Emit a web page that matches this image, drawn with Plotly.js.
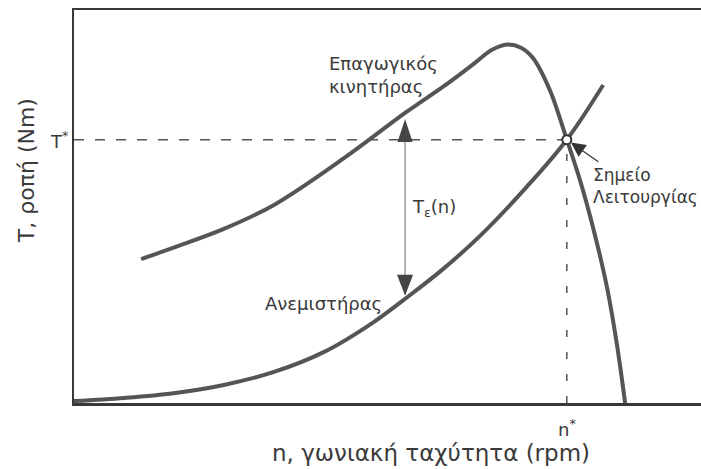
<!DOCTYPE html>
<html>
<head>
<meta charset="utf-8">
<script src="https://cdn.plot.ly/plotly-3.0.1.min.js"></script>
<style>
  html, body { margin: 0; padding: 0; background: #ffffff; }
  #chart { width: 701px; height: 469px; }
</style>
</head>
<body>
<div id="chart"></div>
<script>
// Induction motor torque curve (speed n, torque T), arbitrary units
const nMotor = [10.7, 16.0, 23.9, 31.9, 43.5, 52.8, 59.5, 64.0, 66.6, 69.1, 71.3, 73.2, 75.9, 78.6, 80.7, 82.8, 85.0, 86.6, 87.9];
const tMotor = [36.6, 39.6, 44.3, 50.4, 62.8, 73.8, 81.2, 86.6, 89.8, 91.2, 90.4, 87.8, 79.6, 67.0, 56.7, 44.5, 29.5, 14.8, 0.0];

// Fan load torque curve
const nFan = [0.0, 8.0, 15.9, 23.9, 31.9, 39.9, 47.8, 52.8, 58.8, 64.8, 72.2, 78.6, 84.4];
const tFan = [0.5, 1.3, 2.5, 4.6, 7.9, 13.0, 20.6, 26.5, 34.0, 42.6, 55.0, 67.0, 80.9];

// Operating point (n*, T*) where both curves meet
const opN = 78.6;
const opT = 67.0;

// Speed at which the excess torque Tε(n) is marked
const excessN = 52.8;

const motorAtExcess = tMotor[nMotor.indexOf(excessN)];
const fanAtExcess = tFan[nFan.indexOf(excessN)];

const FONT = '"DejaVu Sans", "Liberation Sans", sans-serif';
const INK = '#3a3a3a';
const CURVE = '#555555';

const margin = {l: 74, r: 0, t: 10, b: 66};
const plotH = 469 - margin.t - margin.b;
const pxPerY = plotH / 100;

const traces = [
  {
    x: nMotor, y: tMotor, type: 'scatter', mode: 'lines',
    line: {color: CURVE, width: 4, shape: 'spline', smoothing: 1},
    hoverinfo: 'skip', showlegend: false
  },
  {
    x: nFan, y: tFan, type: 'scatter', mode: 'lines',
    line: {color: CURVE, width: 4, shape: 'spline', smoothing: 1},
    hoverinfo: 'skip', showlegend: false
  },
  {
    x: [opN], y: [opT], type: 'scatter', mode: 'markers',
    marker: {symbol: 'circle', size: 9, color: '#ffffff', line: {color: '#333333', width: 2}},
    hoverinfo: 'skip', showlegend: false
  }
];

const shapes = [
  // T* guide
  {type: 'line', xref: 'x', yref: 'y', x0: 0, x1: opN, y0: opT, y1: opT,
   line: {color: CURVE, width: 1.5, dash: '10px,11px'}, layer: 'below'},
  // n* guide
  {type: 'line', xref: 'x', yref: 'y', x0: opN, x1: opN, y0: 0, y1: opT,
   line: {color: CURVE, width: 1.5, dash: '7px,15px'}, layer: 'below'},
  // Tε(n) double arrow shaft
  {type: 'line', xref: 'x', yref: 'y', x0: excessN, x1: excessN,
   y0: fanAtExcess + 10 / pxPerY, y1: motorAtExcess - 12 / pxPerY,
   line: {color: '#666666', width: 1}},
  // upper arrow head
  {type: 'path', xref: 'x', yref: 'y', xsizemode: 'pixel', ysizemode: 'pixel',
   xanchor: excessN, yanchor: motorAtExcess,
   path: 'M0,-6L-7.5,-29L7.5,-29Z', fillcolor: '#454545', line: {width: 0}},
  // lower arrow head
  {type: 'path', xref: 'x', yref: 'y', xsizemode: 'pixel', ysizemode: 'pixel',
   xanchor: excessN, yanchor: fanAtExcess,
   path: 'M0,3L-8,24L8,24Z', fillcolor: '#454545', line: {width: 0}}
];

const labelFont = {family: FONT, size: 18, color: INK};

const annotations = [
  {text: 'Επαγωγικός<br>κινητήρας', xref: 'x', yref: 'y', x: 40.3, y: 83.5,
   xanchor: 'left', yanchor: 'middle', align: 'left', showarrow: false, font: labelFont},
  {text: 'Ανεμιστήρας', xref: 'x', yref: 'y', x: 30.1, y: 25.4,
   xanchor: 'left', yanchor: 'middle', showarrow: false, font: labelFont},
  {text: 'T<sub>ε</sub>(n)', xref: 'x', yref: 'y', x: 53.6, y: 49.6,
   xanchor: 'left', yanchor: 'middle', showarrow: false, font: labelFont},
  {text: 'Σημείο<br>Λειτουργίας', xref: 'x', yref: 'y', x: 82.4, y: 55.2,
   xanchor: 'left', yanchor: 'middle', align: 'left', showarrow: false,
   font: {family: FONT, size: 17, color: INK}},
  // leader to the operating point
  {text: '', xref: 'x', yref: 'y', x: opN, y: opT, ax: 33, ay: 23,
   showarrow: true, arrowhead: 2, arrowsize: 2.4, arrowwidth: 1.2, arrowcolor: '#333333', standoff: 5},
  // axis markers
  {text: 'T<sup>*</sup>', xref: 'paper', yref: 'y', x: 0, y: opT, xanchor: 'right', yanchor: 'middle',
   xshift: -4, showarrow: false, font: labelFont},
  {text: 'n<sup>*</sup>', xref: 'x', yref: 'paper', x: opN, y: 0, xanchor: 'center', yanchor: 'middle',
   yshift: -25, showarrow: false, font: labelFont},
  // axis titles
  {text: 'n, γωνιακή ταχύτητα (rpm)', xref: 'x', yref: 'paper', x: 57.0, y: 0,
   xanchor: 'center', yanchor: 'middle', yshift: -50, showarrow: false,
   font: {family: FONT, size: 23, color: INK}},
  {text: 'T, ροπή (Nm)', xref: 'paper', yref: 'y', x: 0, y: 59.0, textangle: -90,
   xanchor: 'center', yanchor: 'middle', xshift: -48, showarrow: false,
   font: {family: FONT, size: 22, color: INK}}
];

const layout = {
  width: 701, height: 469,
  margin: margin,
  paper_bgcolor: '#ffffff', plot_bgcolor: '#ffffff',
  showlegend: false,
  xaxis: {range: [0, 100], showgrid: false, zeroline: false, showticklabels: false, ticks: '',
          showline: true, mirror: true, linecolor: '#383838', linewidth: 2.5, fixedrange: true},
  yaxis: {range: [0, 100], showgrid: false, zeroline: false, showticklabels: false, ticks: '',
          showline: true, linecolor: '#383838', linewidth: 2, fixedrange: true},
  shapes: shapes,
  annotations: annotations
};

Plotly.newPlot('chart', traces, layout, {displayModeBar: false, staticPlot: true});
</script>
</body>
</html>
